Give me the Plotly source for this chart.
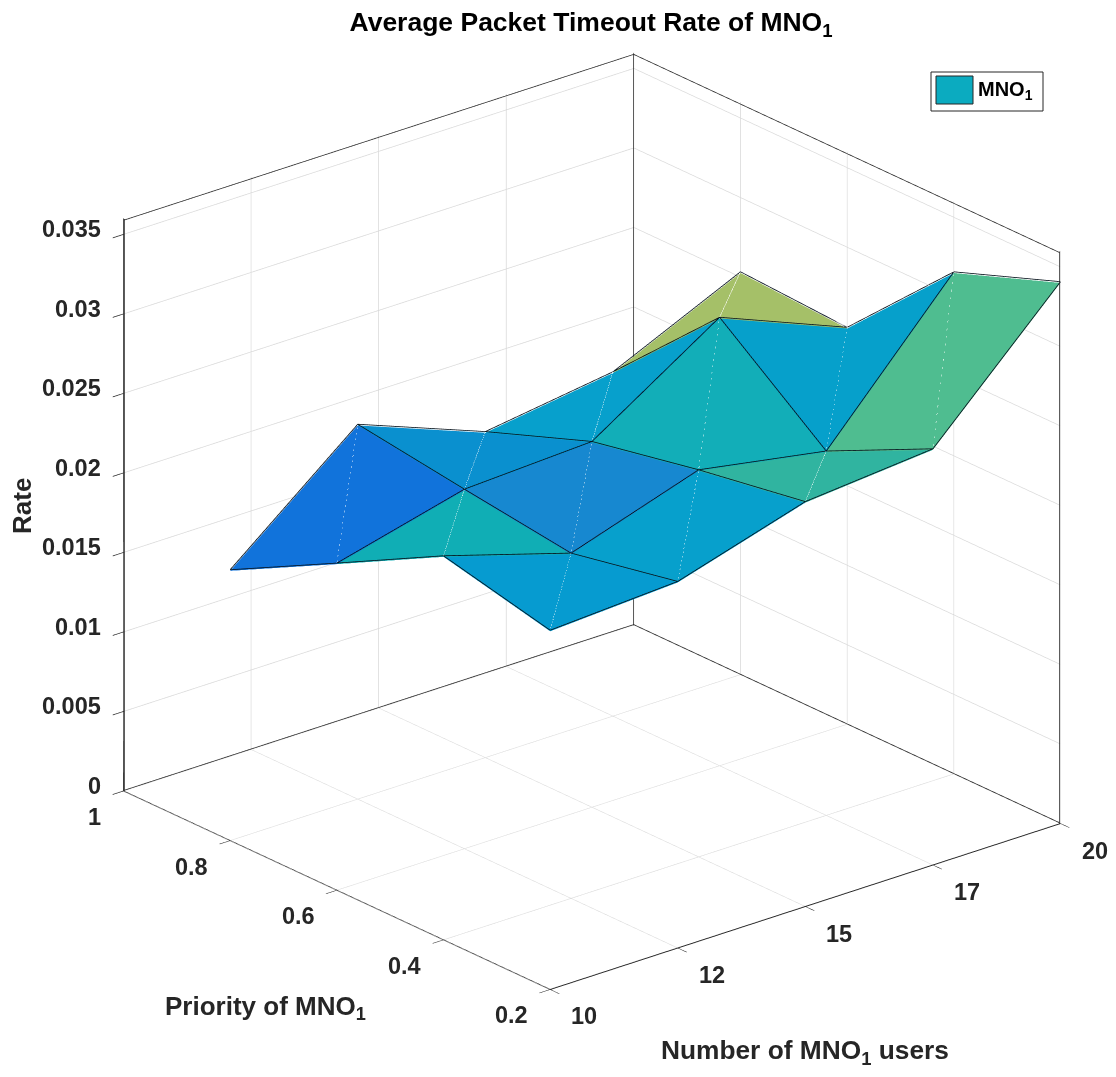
import plotly.graph_objects as go

users = [10, 12.5, 15, 17.5, 20]
user_labels = ["10", "12", "15", "17", "20"]
priority = [0.2, 0.4, 0.6, 0.8]
priority_ticks = [0.2, 0.4, 0.6, 0.8, 1]
priority_labels = ["0.2", "0.4", "0.6", "0.8", "1"]
rate_ticks = [0, 0.005, 0.01, 0.015, 0.02, 0.025, 0.03, 0.035]
rate_labels = ["0", "0.005", "0.01", "0.015", "0.02", "0.025", "0.03", "0.035"]
# rows: priority, columns: users
rate = [
    [0.02252, 0.02298, 0.02539, 0.0261, 0.034],
    [0.02408, 0.02164, 0.02427, 0.02284, 0.0315],
    [0.0205, 0.02254, 0.02293, 0.02813, 0.02489],
    [0.01696, 0.0235, 0.02043, 0.02158, 0.02526],
]
# facet colours: rows priority, columns users
facet_colors = [
    ["#069BD0", "#07A0CC", "#30B4A0", "#4FBD90"],
    ["#10AEB5", "#1788D0", "#12AEB8", "#06A0CB"],
    ["#1173DB", "#0A90CF", "#07A0CC", "#A5C068"],
]
x_lim = [10, 20]
y_lim = [0.2, 1]
z_lim = [0, 0.036]

nx, ny = len(users), len(priority)
vx, vy, vz = [], [], []
for r, p in enumerate(priority):
    for c, u in enumerate(users):
        vx.append(u); vy.append(p); vz.append(rate[r][c])
idx = lambda r, c: r * nx + c
I, J, K, FC = [], [], [], []
sx, sy, sz = [], [], []
lift = (z_lim[1] - z_lim[0]) * 0.002
for r in range(ny - 1):
    for c in range(nx - 1):
        # each quad is two triangles sharing the diagonal that shows as a pale seam
        I += [idx(r, c), idx(r, c)]
        J += [idx(r, c + 1), idx(r + 1, c + 1)]
        K += [idx(r + 1, c + 1), idx(r + 1, c)]
        FC += [facet_colors[r][c]] * 2
        sx += [users[c], users[c + 1], None]
        sy += [priority[r], priority[r + 1], None]
        sz += [rate[r][c] + lift, rate[r + 1][c + 1] + lift, None]

fig = go.Figure()
fig.add_trace(go.Mesh3d(x=vx, y=vy, z=vz, i=I, j=J, k=K, facecolor=FC, flatshading=True,
                        lighting=dict(ambient=1, diffuse=0, specular=0, roughness=1, fresnel=0),
                        name="MNO1", showscale=False, hoverinfo="skip"))
fig.add_trace(go.Scatter3d(x=sx, y=sy, z=sz, mode="lines", line=dict(color="rgba(255,255,255,0.16)", width=1),
                           showlegend=False, hoverinfo="skip"))
# mesh edges
ex, ey, ez = [], [], []
for r in range(ny):
    ex += users + [None]; ey += [priority[r]] * nx + [None]; ez += [v + lift for v in rate[r]] + [None]
for c in range(nx):
    ex += [users[c]] * ny + [None]; ey += priority + [None]; ez += [rate[r][c] + lift for r in range(ny)] + [None]
fig.add_trace(go.Scatter3d(x=ex, y=ey, z=ez, mode="lines", line=dict(color="#06121C", width=1.6),
                           showlegend=False, hoverinfo="skip"))
# box back edges, nudged off the wall grid so they do not fight with it
bx, by, bz = [], [], []
x0, x1 = x_lim; y0, y1 = y_lim; z0, z1 = z_lim
ex_, ey_, ez_ = (x1 - x0) * 0.002, (y1 - y0) * 0.002, (z1 - z0) * 0.002
xa, xb, ya, yb, za, zb = x0 + ex_, x1 - ex_, y0 + ey_, y1 - ey_, z0 + ez_, z1 - ez_
for seg in [((x0, yb, za), (xb, yb, za)), ((xb, yb, za), (xb, y0, za)), ((xb, yb, z0), (xb, yb, z1)),
            ((x0, yb, zb), (xb, yb, zb)), ((xb, yb, zb), (xb, y0, zb)), ((xb, y0, z0), (xb, y0, z1)),
            ((x0, yb, z0), (x0, yb, z1))]:
    bx += [seg[0][0], seg[1][0], None]; by += [seg[0][1], seg[1][1], None]; bz += [seg[0][2], seg[1][2], None]
fig.add_trace(go.Scatter3d(x=bx, y=by, z=bz, mode="lines", line=dict(color="#262626", width=1.5),
                           showlegend=False, hoverinfo="skip"))

tick_font = dict(family="Liberation Sans", size=23.5, color="#262626")
axis = dict(showbackground=False, showgrid=True, gridcolor="#D8D8D8", gridwidth=1.5, zeroline=False,
            showline=True, linecolor="#262626", linewidth=2, ticks="outside", ticklen=14, tickcolor="#262626",
            tickwidth=1.5, showticklabels=False, title=dict(text=""), showspikes=False, autorange=False)

OFF = 8  # page margin round the figure
W, H = 1116 - 2 * OFF, 1077 - 2 * OFF
px = lambda v: (v - OFF) / W
py = lambda v: 1 - (v - OFF) / H
cx, cy = 592, 521
half_w = min(cx - OFF, W + OFF - cx)
half_h = min(cy - OFF, H + OFF - cy)
dom_x = [px(cx - half_w), px(cx + half_w)]
dom_y = [py(cy + half_h), py(cy - half_h)]

tick_annots = []
for v, t in zip(rate_ticks, rate_labels):
    tick_annots.append(dict(x=x0, y=y1, z=v, text=f"<b>{t}</b>", showarrow=False, xanchor="right", yanchor="middle",
                            xshift=-20, yshift=5, font=tick_font))
for v, t in zip(priority_ticks, priority_labels):
    tick_annots.append(dict(x=x0, y=v, z=z0, text=f"<b>{t}</b>", showarrow=False, xanchor="right", yanchor="middle",
                            xshift=-20, yshift=-26, font=tick_font))
for v, t in zip(users, user_labels):
    tick_annots.append(dict(x=v, y=y0, z=z0, text=f"<b>{t}</b>", showarrow=False, xanchor="center", yanchor="middle",
                            xshift=34, yshift=-27, font=tick_font))

ZOOM = 936 / 724 * 1.003
fig.update_layout(
    width=W, height=H, margin=dict(l=0, r=0, t=0, b=0), paper_bgcolor="white", showlegend=False,
    title=dict(text="<b>Average Packet Timeout Rate of MNO<sub>1</sub></b>", x=px(591), xanchor="center", y=py(22),
               yanchor="middle", font=dict(family="Liberation Sans", size=26.5, color="black")),
    scene=dict(
        domain=dict(x=dom_x, y=dom_y),
        xaxis=dict(axis, range=x_lim, tickvals=users, ticktext=user_labels),
        yaxis=dict(axis, range=y_lim, tickvals=priority_ticks, ticktext=priority_labels),
        zaxis=dict(axis, range=z_lim, tickvals=rate_ticks, ticktext=rate_labels),
        aspectmode="manual", aspectratio=dict(x=ZOOM, y=ZOOM, z=0.9342 * ZOOM),
        camera=dict(projection=dict(type="orthographic"), up=dict(x=0, y=0, z=1), center=dict(x=0, y=0, z=0),
                    eye=dict(x=-0.5909 * 1.572, y=-0.7068 * 1.572, z=0.389 * 1.572)),
        annotations=tick_annots,
    ),
    shapes=[
        dict(type="rect", xref="paper", yref="paper", x0=px(931), x1=px(1043), y0=py(111), y1=py(72),
             line=dict(color="#262626", width=1), fillcolor="white"),
        dict(type="rect", xref="paper", yref="paper", x0=px(936), x1=px(973), y0=py(104), y1=py(76),
             line=dict(color="#262626", width=1), fillcolor="#0BABC0"),
    ],
    annotations=[
        dict(text="<b>MNO<sub>1</sub></b>", xref="paper", yref="paper", x=px(976), y=py(91), xanchor="left", yanchor="middle",
             showarrow=False, font=dict(family="Liberation Sans", size=20, color="black")),
        dict(text="<b>Rate</b>", xref="paper", yref="paper", x=px(22), y=py(506), textangle=-90, xanchor="center", yanchor="middle",
             showarrow=False, font=dict(family="Liberation Sans", size=26, color="#262626")),
        dict(text="<b>Priority of MNO<sub>1</sub></b>", xref="paper", yref="paper", x=px(265), y=py(1007), xanchor="center", yanchor="middle",
             showarrow=False, font=dict(family="Liberation Sans", size=26, color="#262626")),
        dict(text="<b>Number of MNO<sub>1</sub> users</b>", xref="paper", yref="paper", x=px(805), y=py(1052), xanchor="center", yanchor="middle",
             showarrow=False, font=dict(family="Liberation Sans", size=26.3, color="#262626")),
    ],
)
fig.write_html("out.html")
